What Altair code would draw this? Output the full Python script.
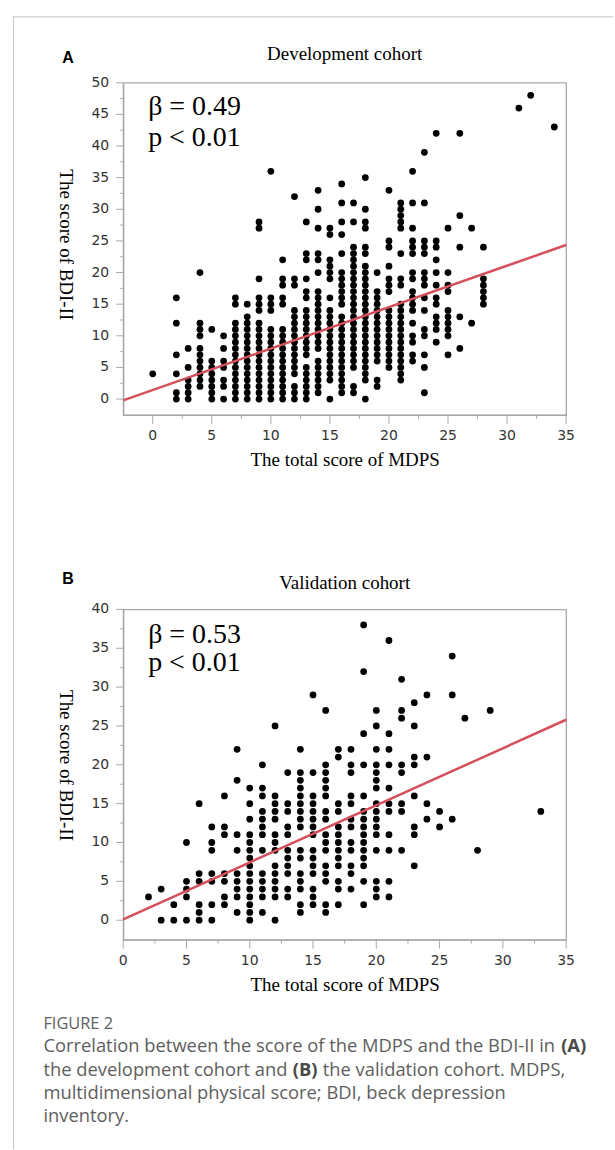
import altair as alt
import pandas as pd

# ---------------- data ----------------
# Panel A (development cohort): MDPS score -> list of BDI-II scores in that column
A_COLS = {
    0: [4],
    2: [0, 1, 4, 7, 12, 16],
    3: [0, 1, 2, 3, 5, 8],
    4: [2, 3, 4, 5, 6, 7, 8, 10, 11, 12, 20],
    5: [0, 1, 2, 3, 4, 5, 6, 11],
    6: [0, 2, 3, 5, 6, 8, 10],
    7: [0, 1, 2, 3, 4, 5, 6, 7, 8, 9, 10, 11, 12, 15, 16],
    8: [0, 1, 2, 3, 4, 5, 6, 7, 8, 9, 10, 11, 12, 13, 15],
    9: [0, 1, 2, 3, 4, 5, 6, 7, 8, 9, 10, 11, 12, 14, 15, 16, 19, 27, 28],
    10: [0, 1, 2, 3, 4, 5, 6, 7, 8, 9, 10, 11, 14, 15, 16, 36],
    11: [0, 1, 2, 3, 4, 5, 6, 7, 8, 9, 10, 11, 15, 16, 18, 19, 22],
    12: [0, 1, 2, 4, 5, 6, 7, 8, 9, 10, 11, 12, 13, 14, 18, 19, 32],
    13: [0, 1, 2, 3, 4, 5, 7, 8, 9, 10, 11, 12, 13, 14, 16, 17, 19, 22, 23, 28],
    14: [1, 2, 3, 4, 5, 6, 8, 9, 10, 11, 12, 13, 14, 15, 16, 17, 20, 22, 23, 27, 30, 33],
    15: [0, 3, 4, 5, 6, 7, 8, 9, 10, 11, 12, 13, 14, 16, 19, 20, 21, 22, 26, 27],
    16: [1, 2, 3, 4, 5, 6, 7, 8, 9, 10, 11, 12, 13, 15, 16, 17, 18, 19, 20, 23, 26, 28, 31, 34],
    17: [1, 2, 5, 6, 7, 8, 9, 10, 11, 12, 13, 14, 15, 16, 17, 18, 19, 20, 21, 22, 23, 24, 28, 31],
    18: [0, 3, 4, 5, 6, 7, 8, 9, 10, 11, 12, 13, 14, 15, 16, 17, 18, 19, 20, 21, 23, 24, 27, 28, 30, 35],
    19: [2, 3, 6, 7, 8, 9, 10, 11, 12, 13, 14, 15, 16, 17, 20],
    20: [5, 6, 7, 8, 9, 10, 11, 12, 13, 14, 17, 18, 19, 21, 24, 25, 33],
    21: [3, 4, 5, 6, 7, 8, 9, 10, 11, 12, 13, 14, 15, 18, 19, 23, 27, 28, 29, 30, 31],
    22: [6, 7, 9, 10, 12, 14, 15, 16, 17, 19, 20, 23, 24, 25, 27, 31, 36],
    23: [1, 5, 7, 10, 11, 14, 16, 18, 19, 20, 23, 24, 25, 31, 39],
    24: [9, 11, 12, 13, 15, 16, 18, 20, 22, 24, 25, 42],
    25: [7, 10, 11, 12, 13, 14, 17, 18, 20, 27],
    26: [8, 13, 24, 29, 42],
    27: [12, 27],
    28: [15, 16, 17, 18, 19, 24],
    31: [46],
    32: [48],
    34: [43],
}

# Panel B (validation cohort)
B_COLS = {
    2: [3],
    3: [0, 4],
    4: [0, 2],
    5: [0, 3, 4, 5, 10],
    6: [0, 1, 2, 5, 6, 15],
    7: [0, 2, 5, 6, 9, 10, 12],
    8: [2, 3, 5, 6, 11, 12, 16],
    9: [1, 3, 4, 5, 6, 9, 11, 18, 22],
    10: [0, 1, 2, 3, 4, 5, 6, 7, 8, 9, 10, 11, 13, 15, 17],
    11: [1, 3, 4, 5, 6, 9, 11, 12, 13, 14, 16, 17, 20],
    12: [0, 3, 4, 5, 6, 7, 9, 10, 11, 13, 14, 15, 16, 25],
    13: [3, 4, 6, 7, 8, 9, 11, 12, 14, 15, 19],
    14: [1, 2, 4, 5, 6, 8, 9, 12, 13, 14, 15, 16, 17, 18, 19, 22],
    15: [2, 3, 4, 6, 7, 8, 9, 11, 12, 13, 14, 15, 16, 19, 29],
    16: [1, 2, 5, 6, 7, 9, 10, 11, 13, 14, 16, 17, 18, 19, 20, 27],
    17: [2, 4, 5, 7, 8, 9, 10, 11, 12, 14, 15, 21, 22],
    18: [4, 6, 7, 9, 10, 12, 13, 15, 16, 19, 20, 22],
    19: [2, 5, 7, 8, 9, 10, 11, 12, 13, 14, 16, 20, 24, 32, 38],
    20: [3, 4, 5, 9, 11, 12, 13, 14, 15, 17, 18, 19, 20, 22, 25, 27],
    21: [3, 5, 9, 11, 14, 15, 17, 20, 22, 24, 36],
    22: [9, 14, 15, 19, 20, 26, 27, 31],
    23: [7, 11, 12, 16, 20, 21, 25, 28],
    24: [13, 15, 21, 29],
    25: [12, 14],
    26: [13, 29, 34],
    27: [26],
    28: [9],
    29: [27],
    33: [14],
}

# fitted regression lines (end points)
A_FIT_X = [-2.5, 35]
A_FIT_Y = [-0.2, 24.35]
B_FIT_X = [0, 35]
B_FIT_Y = [0.1, 25.8]

# axes
A_X_DOMAIN = [-2.5, 35]
A_Y_DOMAIN = [-2.5, 50]
B_X_DOMAIN = [0, 35]
B_Y_DOMAIN = [-2.5, 40]
X_TICKS = [0, 5, 10, 15, 20, 25, 30, 35]
X_MINOR = [2.5, 7.5, 12.5, 17.5, 22.5, 27.5, 32.5]
A_Y_TICKS = [0, 5, 10, 15, 20, 25, 30, 35, 40, 45, 50]
A_Y_MINOR = [2.5, 7.5, 12.5, 17.5, 22.5, 27.5, 32.5, 37.5, 42.5, 47.5]
B_Y_TICKS = [0, 5, 10, 15, 20, 25, 30, 35, 40]
B_Y_MINOR = [2.5, 7.5, 12.5, 17.5, 22.5, 27.5, 32.5, 37.5]

A_STATS = ["β = 0.49", "p < 0.01"]
B_STATS = ["β = 0.53", "p < 0.01"]
X_TITLE = "The total score of MDPS"
Y_TITLE = "The score of BDI-II"

CAPTION_HEAD = "FIGURE 2"
CAPTION_L1 = "Correlation between the score of the MDPS and the BDI-II in"
CAPTION_L2A = "the development cohort and"
CAPTION_L2B = "the validation cohort. MDPS,"
CAPTION_L3 = "multidimensional physical score; BDI, beck depression"
CAPTION_L4 = "inventory."

# ---------------- styling ----------------
W = 444
A_H = 333
B_H = 331
RED = "#d5505c"
AXC = "#a8a8a8"
FRAME = "#c4c4c4"
SERIF = "Liberation Serif"
SANS = "DejaVu Sans"
CAP_FONT = "Open Sans"
CAP_COLOR = "#5e5e5e"
CAP_SIZE = 18.4


def to_df(cols):
    rows = [(x, y) for x, ys in cols.items() for y in ys]
    return pd.DataFrame(rows, columns=["mdps", "bdi"])


def one(text):
    return pd.DataFrame({"t": [text]})


def label(text, x, y, size, font, color="black", weight="normal", align="left"):
    return alt.Chart(one(text)).mark_text(
        font=font, fontSize=size, fontWeight=weight, color=color,
        align=align, baseline="alphabetic"
    ).encode(text="t:N", x=alt.value(x), y=alt.value(y))


def panel(cols, xdom, ydom, ytk, yminor, fitx, fity, H, ytitle_y, stats, stats_y,
          letter, letter_y, title, title_y):
    xs = alt.Scale(domain=xdom, nice=False, zero=False)
    ys = alt.Scale(domain=ydom, nice=False, zero=False)
    xaxis = alt.Axis(title=X_TITLE, ticks=False, labels=False, grid=False,
                     titleY=51, titleBaseline="alphabetic")
    yaxis = alt.Axis(title=Y_TITLE, ticks=False, labels=False, grid=False,
                     titleAngle=90, titleX=-58, titleY=ytitle_y, titleAlign="center",
                     titleBaseline="middle")
    pts = alt.Chart(to_df(cols)).mark_circle(size=46, color="black", opacity=1).encode(
        x=alt.X("mdps:Q", scale=xs, axis=xaxis),
        y=alt.Y("bdi:Q", scale=ys, axis=yaxis),
    )
    fit = alt.Chart(pd.DataFrame({"mdps": fitx, "bdi": fity})).mark_line(
        color=RED, strokeWidth=2.5).encode(
        x=alt.X("mdps:Q", scale=xs), y=alt.Y("bdi:Q", scale=ys))
    xmaj = alt.Chart(pd.DataFrame({"mdps": X_TICKS})).mark_rule(color=AXC, strokeWidth=1).encode(
        x=alt.X("mdps:Q", scale=xs), y=alt.value(H), y2=alt.value(H + 9))
    xmin = alt.Chart(pd.DataFrame({"mdps": X_MINOR})).mark_rule(color=AXC, strokeWidth=1).encode(
        x=alt.X("mdps:Q", scale=xs), y=alt.value(H), y2=alt.value(H + 4))
    ymaj = alt.Chart(pd.DataFrame({"bdi": ytk})).mark_rule(color=AXC, strokeWidth=1).encode(
        y=alt.Y("bdi:Q", scale=ys), x=alt.value(-7), x2=alt.value(0))
    ymin = alt.Chart(pd.DataFrame({"bdi": yminor})).mark_rule(color=AXC, strokeWidth=1).encode(
        y=alt.Y("bdi:Q", scale=ys), x=alt.value(-3), x2=alt.value(0))
    xlab = alt.Chart(pd.DataFrame({"mdps": X_TICKS})).mark_text(
        font=SANS, fontSize=14, color="#333333", align="center", baseline="top").encode(
        x=alt.X("mdps:Q", scale=xs), y=alt.value(H + 14), text=alt.Text("mdps:Q", format="d"))
    ylab = alt.Chart(pd.DataFrame({"bdi": ytk})).mark_text(
        font=SANS, fontSize=14, color="#333333", align="right", baseline="middle").encode(
        y=alt.Y("bdi:Q", scale=ys), x=alt.value(-14), text=alt.Text("bdi:Q", format="d"))
    return [pts, fit, xmaj, xmin, ymaj, ymin, xlab, ylab,
            label(stats[0], 25, stats_y[0], 28, SERIF),
            label(stats[1], 25, stats_y[1], 28, SERIF),
            label(letter, -61, letter_y, 16, "Liberation Sans", weight="bold"),
            label(title, 222, title_y, 19, SERIF, align="center")]


A_layers = panel(A_COLS, A_X_DOMAIN, A_Y_DOMAIN, A_Y_TICKS, A_Y_MINOR,
                 A_FIT_X, A_FIT_Y, A_H, 162, A_STATS, (32, 63), "A", -20, "Development cohort", -23)
# page frame lines
frame_top = alt.Chart(one("")).mark_rule(color=FRAME, strokeWidth=1).encode(
    x=alt.value(-110.5), x2=alt.value(491), y=alt.value(-66))
frame_left = alt.Chart(one("")).mark_rule(color=FRAME, strokeWidth=1).encode(
    x=alt.value(-110), y=alt.value(-66.5), y2=alt.value(1069))
panelA = alt.layer(*A_layers, frame_top, frame_left).properties(width=W, height=A_H)

B_layers = panel(B_COLS, B_X_DOMAIN, B_Y_DOMAIN, B_Y_TICKS, B_Y_MINOR,
                 B_FIT_X, B_FIT_Y, B_H, 156, B_STATS, (34, 62), "B", -25, "Validation cohort", -20)
cap = [
    label(CAPTION_HEAD, -80, 421, 16.4, CAP_FONT, color=CAP_COLOR),
    label(CAPTION_L1, -80, 444, CAP_SIZE, CAP_FONT, color=CAP_COLOR),
    label("(A)", 439, 444, CAP_SIZE, CAP_FONT, color="#4a4a4a", weight="bold"),
    label(CAPTION_L2A, -80, 468, CAP_SIZE, CAP_FONT, color=CAP_COLOR),
    label("(B)", 170, 468, CAP_SIZE, CAP_FONT, color="#4a4a4a", weight="bold"),
    label(CAPTION_L2B, 200, 468, CAP_SIZE, CAP_FONT, color=CAP_COLOR),
    label(CAPTION_L3, -80, 491, CAP_SIZE, CAP_FONT, color=CAP_COLOR),
    label(CAPTION_L4, -80, 514, CAP_SIZE, CAP_FONT, color=CAP_COLOR),
]
panelB = alt.layer(*B_layers, *cap).properties(width=W, height=B_H)

chart = alt.vconcat(panelA, panelB, spacing=195, bounds="flush").properties(
    padding={"left": 11.5, "top": 13.5, "right": 0, "bottom": 0},
    autosize=alt.AutoSizeParams(type="pad"),
).configure_view(stroke=AXC, strokeWidth=1.3).configure_axis(
    domainColor=AXC, domainWidth=1.3,
    titleFont=SERIF, titleFontSize=19, titleFontWeight="normal", titleColor="black",
)

chart.save("out.html", embed_options={"renderer": "svg", "actions": False})
